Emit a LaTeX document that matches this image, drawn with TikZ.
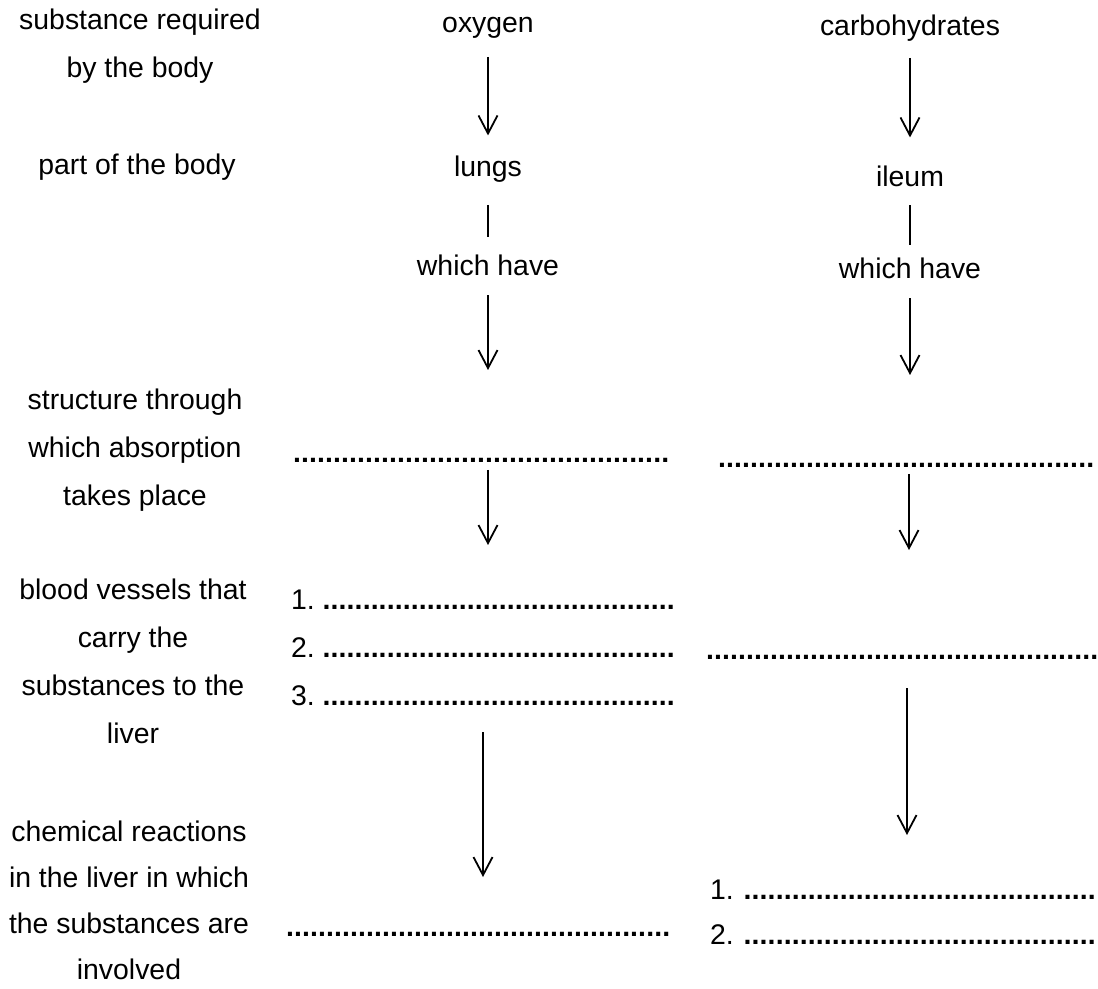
\documentclass[tikz,border=0pt]{standalone}
\usepackage{fontspec}
\setmainfont{Liberation Sans}
\usetikzlibrary{arrows.meta}
\newcommand\labelfont{\fontsize{14.2pt}{24pt}\selectfont}
\newcommand\dotrow[1]{\makebox[#1][l]{\leaders\hbox to 4pt{\hss\textbf{.}\hss}\hskip 0pt plus 1fill}}
\tikzset{
    txt/.style={inner sep=0pt, outer sep=0pt, font=\labelfont, anchor=base},
    side/.style={inner sep=0pt, outer sep=0pt, font=\labelfont, align=center, anchor=north},
    blank/.style={txt, anchor=base west},
    stem/.style={line width=0.9pt},
    arr/.style={stem, -{Straight Barb[length=9pt,width=9.5pt]}}
}

\begin{document}
\begin{tikzpicture}[x=0.5pt, y=-0.5pt]
    \useasboundingbox (0,0) rectangle (1098,989);

    % Left column
    \node[side] (need) at (140,9) {substance required\\by the body};
    \node[side] (part) at (137,154) {part of the body};
    \node[side] (struct) at (135,389) {structure through\\which absorption\\takes place};
    \node[side] (vessel) at (133,579) {blood vessels that\\carry the\\substances to the\\liver};
    \node[side, font=\fontsize{14.2pt}{23pt}\selectfont] (react) at (129,821)
        {chemical reactions\\in the liver in which\\the substances are\\involved};

    % Oxygen column
    \node[txt] (oxy) at (488,33) {oxygen};
    \node[txt] (lungs) at (488,177) {lungs};
    \node[txt] (haveM) at (488,276) {which have};
    \node[blank] (dotM) at (293,463) {\dotrow{191.5pt}};
    \node[blank] (m1) at (291,610) {1.\hspace{4pt}\dotrow{179.5pt}};
    \node[blank] (m2) at (291,657) {2.\hspace{4pt}\dotrow{179.5pt}};
    \node[blank] (m3) at (291,705) {3.\hspace{4pt}\dotrow{179.5pt}};
    \node[blank] (dotB) at (286,936) {\dotrow{194pt}};

    \coordinate (tipM1) at (488,370);
    \coordinate (tipM2) at (488,545);
    \coordinate (tipM3) at (483,877);
    \draw[arr, shorten <=9pt, shorten >=10.5pt] (oxy) -- (lungs);
    \draw[stem, shorten <=11pt, shorten >=9pt] (lungs) -- (haveM);
    \draw[arr, shorten <=9.5pt] (haveM) -- (tipM1);
    \draw[arr, shorten <=3.5pt] (dotM.south -| tipM2) -- (tipM2);
    \draw[arr, shorten <=13.5pt] (m3.south -| tipM3) -- (tipM3);

    % Carbohydrate column
    \node[txt] (carb) at (910,36) {carbohydrates};
    \node[txt] (ileum) at (910,187) {ileum};
    \node[txt] (haveR) at (910,279) {which have};
    \node[blank] (dotR1) at (718,468) {\dotrow{190pt}};
    \node[blank] (dotR2) at (706,659) {\dotrow{196pt}};
    \node[blank] (r1) at (710,899) {1.\hspace{5pt}\dotrow{177pt}};
    \node[blank] (r2) at (710,944) {2.\hspace{5pt}\dotrow{177pt}};

    \coordinate (tipR1) at (910,375);
    \coordinate (tipR2) at (909,550);
    \coordinate (tipR3) at (907,835);
    \draw[arr, shorten <=8pt, shorten >=14.5pt] (carb) -- (ileum);
    \draw[stem, shorten <=9pt, shorten >=6.5pt] (ileum) -- (haveR);
    \draw[arr, shorten <=9.5pt] (haveR) -- (tipR1);
    \draw[arr, shorten <=3pt] (dotR1.south -| tipR2) -- (tipR2);
    \draw[arr, shorten <=14.5pt] (dotR2.south -| tipR3) -- (tipR3);
\end{tikzpicture}
\end{document}
